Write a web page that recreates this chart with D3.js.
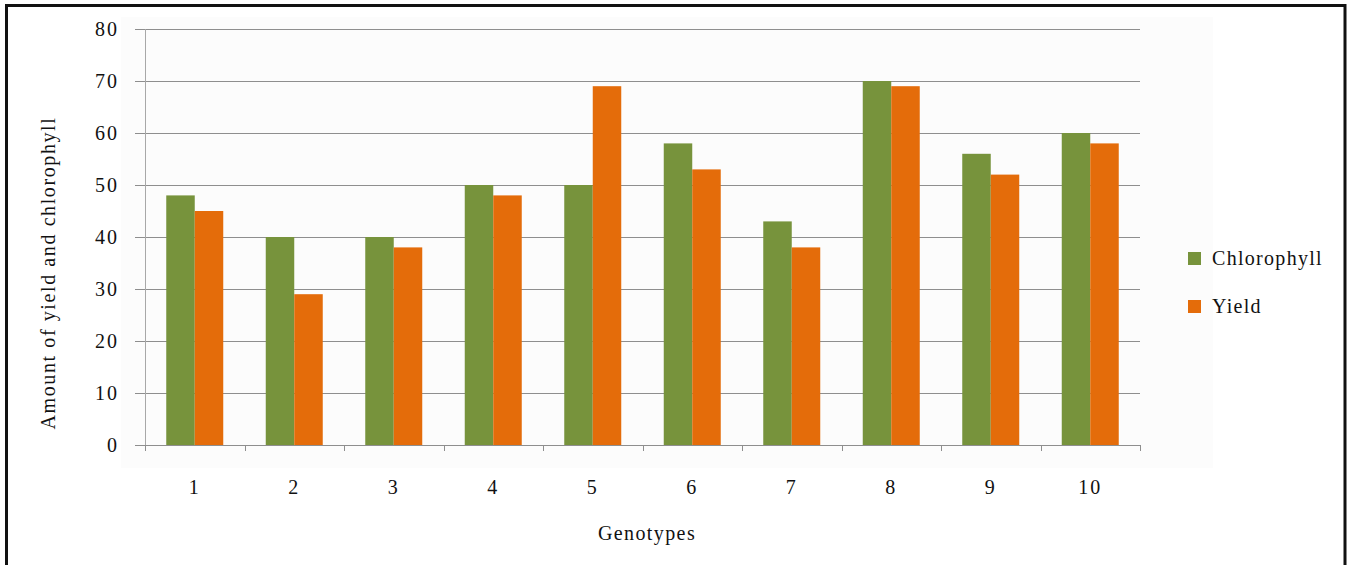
<!DOCTYPE html>
<html><head><meta charset="utf-8">
<script src="https://cdn.jsdelivr.net/npm/d3@7/dist/d3.min.js"></script>
<style>
html,body{margin:0;padding:0;background:#fff;}
svg{display:block;}
text{font-family:"Liberation Serif","Times New Roman",serif;fill:#111;}
</style></head>
<body>
<svg id="chart" width="1349" height="565"></svg>
<script>
const categories = ["1","2","3","4","5","6","7","8","9","10"];
const seriesNames = ["Chlorophyll","Yield"];
const chlorophyll = [48,40,40,50,50,58,43,70,56,60];
const yieldVals = [45,29,38,48,69,53,38,69,52,58];
const yTicks = [0,10,20,30,40,50,60,70,80];
const colors = ["#77933C","#E46C0A"];

const svg = d3.select("#chart");
const plotL = 145, plotR = 1140, plotT = 29, plotB = 445;

// faint plot background
svg.append("rect").attr("x",121).attr("y",17).attr("width",1092).attr("height",451).attr("fill","#fcfcfc");

const y = d3.scaleLinear().domain([0,80]).range([plotB, plotT]);
const x0 = d3.scaleBand().domain(categories).range([plotL, plotR]).padding(0);
const bw = x0.bandwidth();
const gap = bw * 0.2136;
const x1 = d3.scaleBand().domain(seriesNames).range([gap, bw - gap]).padding(0);

// gridlines
svg.append("g").selectAll("line").data(yTicks).join("line")
  .attr("x1", plotL - 10).attr("x2", plotR)
  .attr("y1", d => y(d) + 0.5).attr("y2", d => y(d) + 0.5)
  .attr("stroke", "#8e8e8e").attr("stroke-width", 1);

// y axis line
svg.append("line").attr("x1", plotL + 0.5).attr("x2", plotL + 0.5)
  .attr("y1", plotT).attr("y2", plotB).attr("stroke", "#a8a8a8");

// y tick labels
svg.append("g").selectAll("text").data(yTicks).join("text")
  .attr("x", 119).attr("y", d => y(d)).attr("dy", "0.35em")
  .attr("text-anchor", "end").attr("font-size", 20).attr("letter-spacing", "2px")
  .text(d => d);

// bars
const data = categories.map((c, i) => ({cat: c, vals: [chlorophyll[i], yieldVals[i]]}));
const groups = svg.append("g").selectAll("g").data(data).join("g")
  .attr("transform", d => `translate(${x0(d.cat)},0)`);
groups.selectAll("rect").data(d => d.vals.map((v, j) => ({name: seriesNames[j], v, j}))).join("rect")
  .attr("x", d => x1(d.name)).attr("width", x1.bandwidth())
  .attr("y", d => y(d.v)).attr("height", d => y(0) - y(d.v))
  .attr("fill", d => colors[d.j]);

// x axis ticks
const tickPos = categories.map(c => x0(c)).concat([plotR]);
svg.append("g").selectAll("line").data(tickPos).join("line")
  .attr("x1", d => Math.round(d) + 0.5).attr("x2", d => Math.round(d) + 0.5)
  .attr("y1", plotB).attr("y2", plotB + 6).attr("stroke", "#8e8e8e");

// x labels
svg.append("g").selectAll("text").data(categories).join("text")
  .attr("x", d => x0(d) + bw / 2).attr("y", 494)
  .attr("text-anchor", "middle").attr("font-size", 20).attr("letter-spacing", "2px")
  .text(d => d);

// axis titles
svg.append("text").attr("transform", "translate(55,273) rotate(-90)")
  .attr("text-anchor", "middle").attr("font-size", 20).attr("letter-spacing", "1.6px")
  .text("Amount of yield and chlorophyll");
svg.append("text").attr("x", 647).attr("y", 540)
  .attr("text-anchor", "middle").attr("font-size", 20).attr("letter-spacing", "1.4px")
  .text("Genotypes");

// legend
const lg = svg.append("g").selectAll("g").data(seriesNames).join("g")
  .attr("transform", (d, i) => `translate(1188,${252 + i * 48})`);
lg.append("rect").attr("width", 13).attr("height", 13).attr("fill", (d, i) => colors[i]);
lg.append("text").attr("x", 24).attr("y", 13).attr("font-size", 20).attr("letter-spacing", "1.3px").text(d => d);

// outer frame
svg.append("rect").attr("x", 6.5).attr("y", 5.5).attr("width", 1338.5).attr("height", 620)
  .attr("fill", "none").attr("stroke", "#111").attr("stroke-width", 3);
</script>
</body></html>
